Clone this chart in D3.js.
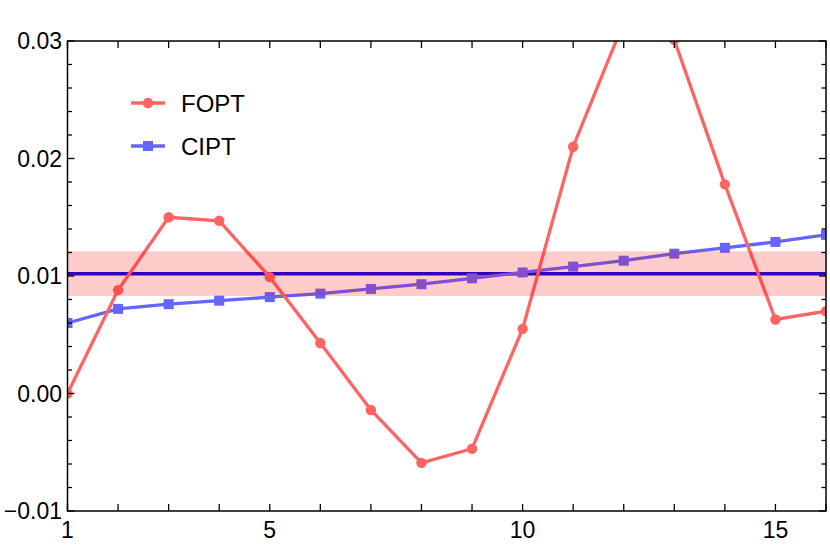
<!DOCTYPE html>
<html><head><meta charset="utf-8">
<script src="https://cdn.jsdelivr.net/npm/d3@7"></script>
<style>body{margin:0;background:#fff}svg{display:block}text{font-family:"Liberation Sans",Arial,sans-serif}</style>
</head><body><svg id="c" width="830" height="554"></svg>
<script>
const xs = [1,2,3,4,5,6,7,8,9,10,11,12,13,14,15,16];
const fopt = [0.0000,0.0088,0.0150,0.0147,0.0099,0.0043,-0.0014,-0.0059,-0.0047,0.0055,0.0210,0.0316,0.0301,0.0178,0.0063,0.0070];
const cipt = [0.0060,0.0072,0.0076,0.0079,0.0082,0.0085,0.0089,0.0093,0.0098,0.0103,0.0108,0.0113,0.0119,0.0124,0.0129,0.0135];
const refValue = 0.0102;
const bandLow = 0.0083, bandHigh = 0.0121;
const xTickLabels = [1,5,10,15];
const yTickLabels = [-0.01,0.00,0.01,0.02,0.03];
const seriesNames = ["FOPT","CIPT"];

const svg = d3.select("#c");
const L=67.5, R=826, T=41, B=511;
const x = d3.scaleLinear().domain([1,16]).range([L,R]);
const y = d3.scaleLinear().domain([-0.01,0.03]).range([B,T]);
const red="#ff6464", blue="#6464ff";

svg.append("clipPath").attr("id","clip").append("rect").attr("x",L).attr("y",T).attr("width",R-L).attr("height",B-T);
const g = svg.append("g").attr("clip-path","url(#clip)");

const line = d3.line().x((d,i)=>x(xs[i])).y(d=>y(d));
g.append("line").attr("x1",L).attr("x2",R).attr("y1",y(refValue)).attr("y2",y(refValue))
 .attr("stroke","rgb(0,0,230)").attr("stroke-width",3.5);
g.append("path").datum(cipt).attr("d",line).attr("fill","none").attr("stroke",blue).attr("stroke-width",3.3);
g.selectAll(".sq").data(cipt).enter().append("rect")
 .attr("x",(d,i)=>x(xs[i])-5).attr("y",d=>y(d)-5).attr("width",10).attr("height",10).attr("fill",blue);
g.append("path").datum(fopt).attr("d",line).attr("fill","none").attr("stroke",red).attr("stroke-width",3.3);
g.selectAll(".ci").data(fopt).enter().append("circle")
 .attr("cx",(d,i)=>x(xs[i])).attr("cy",d=>y(d)).attr("r",5.2).attr("fill",red);
g.append("rect").attr("x",L).attr("width",R-L).attr("y",y(bandHigh)).attr("height",y(bandLow)-y(bandHigh))
 .attr("fill","rgb(255,0,0)").attr("fill-opacity",0.2);

svg.append("rect").attr("x",L).attr("y",T).attr("width",R-L).attr("height",B-T)
 .attr("fill","none").attr("stroke","#000").attr("stroke-width",1.5);

const xt = d3.range(1,17);
xt.forEach(v=>{
  svg.append("line").attr("x1",x(v)).attr("x2",x(v)).attr("y1",B).attr("y2",B-7).attr("stroke","#000").attr("stroke-width",1.3);
  svg.append("line").attr("x1",x(v)).attr("x2",x(v)).attr("y1",T).attr("y2",T+7).attr("stroke","#000").attr("stroke-width",1.3);
});
xTickLabels.forEach(v=>{
  svg.append("text").attr("x",x(v)).attr("y",538).attr("text-anchor","middle").attr("font-size",23).text(v);
});
const yt = d3.range(0,21).map(i=>-0.01+i*0.002);
yt.forEach((v,i)=>{
  const len = (i%5===0)?7:4.5;
  svg.append("line").attr("x1",L).attr("x2",L+len).attr("y1",y(v)).attr("y2",y(v)).attr("stroke","#000").attr("stroke-width",1.3);
  svg.append("line").attr("x1",R).attr("x2",R-len).attr("y1",y(v)).attr("y2",y(v)).attr("stroke","#000").attr("stroke-width",1.3);
});
yTickLabels.forEach(v=>{
  const s = (v<0?"\u2212":"")+Math.abs(v).toFixed(2);
  svg.append("text").attr("x",62).attr("y",y(v)).attr("dy","0.36em").attr("text-anchor","end").attr("font-size",23).text(s);
});

const leg = [{name:seriesNames[0],c:red,sym:"c",y:103},{name:seriesNames[1],c:blue,sym:"s",y:146}];
leg.forEach(d=>{
  svg.append("line").attr("x1",131).attr("x2",165).attr("y1",d.y).attr("y2",d.y).attr("stroke",d.c).attr("stroke-width",3.3);
  if(d.sym==="c") svg.append("circle").attr("cx",148).attr("cy",d.y).attr("r",5.2).attr("fill",d.c);
  else svg.append("rect").attr("x",143).attr("y",d.y-5).attr("width",10).attr("height",10).attr("fill",d.c);
  svg.append("text").attr("x",181).attr("y",d.y+9).attr("font-size",24).text(d.name);
});
</script></body></html>
